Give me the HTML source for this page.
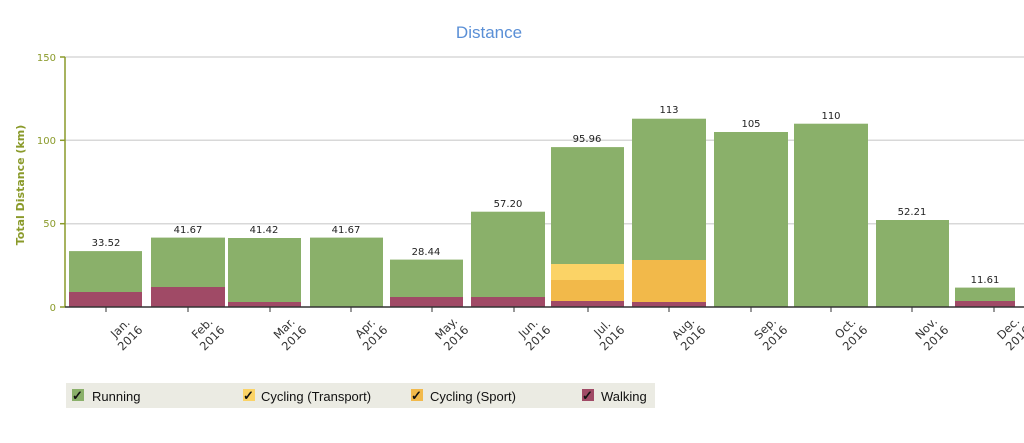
<!DOCTYPE html>
<html><head><meta charset="utf-8"><style>
body{margin:0;background:#fff;width:1024px;height:438px;overflow:hidden;font-family:"Liberation Sans",sans-serif}
</style></head><body>
<svg width="1024" height="438" xmlns="http://www.w3.org/2000/svg" font-family="Liberation Sans, sans-serif">
<text x="489" y="38" text-anchor="middle" font-size="17" fill="#5a8fd6">Distance</text>
<g stroke="#d8d8d8" stroke-width="1.5">
<line x1="65" y1="57" x2="1024" y2="57"/><line x1="65" y1="140.3" x2="1024" y2="140.3"/><line x1="65" y1="223.7" x2="1024" y2="223.7"/>
</g>
<g font-size="10" fill="#8a9a2a" text-anchor="end" font-family="DejaVu Sans, sans-serif">
<text x="56" y="61">150</text><text x="56" y="144">100</text><text x="56" y="227">50</text><text x="56" y="311">0</text>
</g>
<g stroke="#8a9a2a" stroke-width="1.5"><line x1="65" y1="57" x2="65" y2="307"/>
<line x1="60" y1="57" x2="65" y2="57"/><line x1="60" y1="140.3" x2="65" y2="140.3"/><line x1="60" y1="223.7" x2="65" y2="223.7"/><line x1="60" y1="307" x2="65" y2="307"/></g>
<text transform="translate(24,185) rotate(-90)" text-anchor="middle" font-size="11" font-weight="bold" fill="#8a9a2a" font-family="DejaVu Sans, sans-serif">Total Distance (km)</text>
<g fill="#8ab06a">
<rect x="69" y="251.1" width="73" height="55.9"/>
<rect x="151" y="237.6" width="74" height="69.4"/>
<rect x="228" y="238" width="73" height="69"/>
<rect x="310" y="237.6" width="73" height="69.4"/>
<rect x="390" y="259.6" width="73" height="47.4"/>
<rect x="471" y="211.7" width="74" height="95.3"/>
<rect x="551" y="147.1" width="73" height="159.9"/>
<rect x="632" y="118.7" width="74" height="188.3"/>
<rect x="714" y="132" width="74" height="175"/>
<rect x="794" y="123.7" width="74" height="183.3"/>
<rect x="876" y="220" width="73" height="87"/>
<rect x="955" y="287.6" width="60" height="19.4"/>
</g>
<rect x="551" y="264" width="73" height="16" fill="#fbd366"/>
<rect x="551" y="280" width="73" height="21" fill="#f2b94a"/>
<rect x="632" y="260" width="74" height="42" fill="#f2b94a"/>
<g fill="#a04a66">
<rect x="69" y="292" width="73" height="15"/>
<rect x="151" y="287" width="74" height="20"/>
<rect x="228" y="302" width="73" height="5"/>
<rect x="390" y="297" width="73" height="10"/>
<rect x="471" y="297" width="74" height="10"/>
<rect x="551" y="301" width="73" height="6"/>
<rect x="632" y="302" width="74" height="5"/>
<rect x="955" y="301" width="60" height="6"/>
</g>
<line x1="65" y1="307" x2="1024" y2="307" stroke="#333" stroke-width="1.5"/>
<g font-size="10" fill="#222" text-anchor="middle" font-family="DejaVu Sans, sans-serif">
<text x="106" y="246">33.52</text><text x="188" y="233">41.67</text><text x="264" y="233">41.42</text><text x="346" y="233">41.67</text>
<text x="426" y="255">28.44</text><text x="508" y="207">57.20</text><text x="587" y="142">95.96</text><text x="669" y="113">113</text>
<text x="751" y="127">105</text><text x="831" y="119">110</text><text x="912" y="215">52.21</text><text x="985" y="283">11.61</text>
</g>
<g stroke="#333" stroke-width="1">
<line x1="106" y1="307" x2="106" y2="312"/><line x1="188" y1="307" x2="188" y2="312"/><line x1="270" y1="307" x2="270" y2="312"/><line x1="351" y1="307" x2="351" y2="312"/><line x1="432" y1="307" x2="432" y2="312"/><line x1="514" y1="307" x2="514" y2="312"/><line x1="588" y1="307" x2="588" y2="312"/><line x1="669" y1="307" x2="669" y2="312"/><line x1="751" y1="307" x2="751" y2="312"/><line x1="831" y1="307" x2="831" y2="312"/><line x1="912" y1="307" x2="912" y2="312"/><line x1="994" y1="307" x2="994" y2="312"/>
</g>
<g font-size="11.5" fill="#333" text-anchor="middle" font-family="DejaVu Sans, sans-serif">
<g transform="translate(123,331) rotate(-45)"><text x="0" y="0">Jan.</text><text x="0" y="14">2016</text></g>
<g transform="translate(205,331) rotate(-45)"><text x="0" y="0">Feb.</text><text x="0" y="14">2016</text></g>
<g transform="translate(287,331) rotate(-45)"><text x="0" y="0">Mar.</text><text x="0" y="14">2016</text></g>
<g transform="translate(368,331) rotate(-45)"><text x="0" y="0">Apr.</text><text x="0" y="14">2016</text></g>
<g transform="translate(449,331) rotate(-45)"><text x="0" y="0">May.</text><text x="0" y="14">2016</text></g>
<g transform="translate(531,331) rotate(-45)"><text x="0" y="0">Jun.</text><text x="0" y="14">2016</text></g>
<g transform="translate(605,331) rotate(-45)"><text x="0" y="0">Jul.</text><text x="0" y="14">2016</text></g>
<g transform="translate(686,331) rotate(-45)"><text x="0" y="0">Aug.</text><text x="0" y="14">2016</text></g>
<g transform="translate(768,331) rotate(-45)"><text x="0" y="0">Sep.</text><text x="0" y="14">2016</text></g>
<g transform="translate(848,331) rotate(-45)"><text x="0" y="0">Oct.</text><text x="0" y="14">2016</text></g>
<g transform="translate(929,331) rotate(-45)"><text x="0" y="0">Nov.</text><text x="0" y="14">2016</text></g>
<g transform="translate(1011,331) rotate(-45)"><text x="0" y="0">Dec.</text><text x="0" y="14">2016</text></g>
</g>
<rect x="66" y="383" width="589" height="25" fill="#ebebe3"/>
<rect x="72" y="389" width="12" height="12" fill="#8ab06a"/>
<rect x="243" y="389" width="12" height="12" fill="#fbd366"/>
<rect x="411" y="389" width="12" height="12" fill="#f2b94a"/>
<rect x="582" y="389" width="12" height="12" fill="#a04a66"/>
<g font-size="13" fill="#111">
<text x="72" y="400" font-weight="bold">✓</text><text x="243" y="400" font-weight="bold">✓</text><text x="411" y="400" font-weight="bold">✓</text><text x="582" y="400" font-weight="bold">✓</text>
<text x="92" y="401">Running</text><text x="261" y="401">Cycling (Transport)</text><text x="430" y="401">Cycling (Sport)</text><text x="601" y="401">Walking</text>
</g>
</svg>
</body></html>
